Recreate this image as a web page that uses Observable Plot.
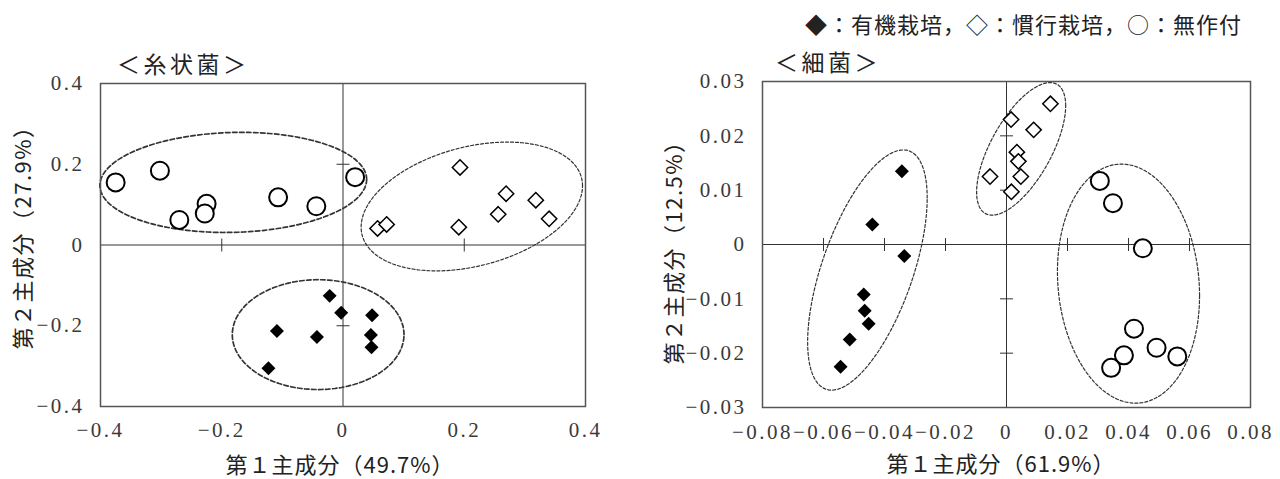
<!DOCTYPE html>
<html><head><meta charset="utf-8">
<script src="https://cdn.jsdelivr.net/npm/d3@7"></script>
<script src="https://cdn.jsdelivr.net/npm/@observablehq/plot@0.6"></script>
<style>
body{margin:0;background:#fff}
#wrap{position:relative;width:1280px;height:479px;overflow:hidden;background:#fff}
.pane{position:absolute;top:0}
.t{position:absolute;font-family:"Noto Sans CJK JP","Noto Sans",sans-serif;color:#222;line-height:1;white-space:nowrap}
</style></head>
<body>
<div id="wrap">
  <div id="left" class="pane" style="left:0"></div>
  <div id="right" class="pane" style="left:640px"></div>
  <div id="legend" class="t" style="left:805px;top:23px;font-size:22px;letter-spacing:1px;transform:translateY(-50%)"></div>
  <div id="titleL" class="t" style="left:117px;top:63px;font-size:23px;letter-spacing:3.5px;transform:translateY(-50%)"></div>
  <div id="titleR" class="t" style="left:775px;top:61px;font-size:23px;letter-spacing:3.5px;transform:translateY(-50%)"></div>
  <div id="xtL" class="t" style="left:340px;top:463px;font-size:22px;letter-spacing:1px;transform:translate(-50%,-50%)"></div>
  <div id="xtR" class="t" style="left:1001px;top:462px;font-size:22px;letter-spacing:1px;transform:translate(-50%,-50%)"></div>
  <div id="ytL" class="t" style="left:21px;top:232px;font-size:22px;letter-spacing:1.5px;transform:translate(-50%,-50%) rotate(-90deg)"></div>
  <div id="ytR" class="t" style="left:672px;top:247px;font-size:22px;letter-spacing:1.5px;transform:translate(-50%,-50%) rotate(-90deg)"></div>
</div>
<script>
// ---- texts ----
const legendText = "◆：有機栽培，◇：慣行栽培，○：無作付";
const panelTitles = ["＜糸状菌＞", "＜細菌＞"];
const xTitles = ["第１主成分（49.7%）", "第１主成分（61.9%）"];
const yTitles = ["第２主成分（27.9%）", "第２主成分（12.5%）"];

// ---- 糸状菌 (fungi) ----
const fungiXTicks = [-0.4, -0.2, 0, 0.2, 0.4];
const fungiYTicks = [-0.4, -0.2, 0, 0.2, 0.4];
const fungiXCross = [-0.2, 0.2];
const fungiYCross = [-0.2, 0.2];
const fungiOrganicX = [-0.022, -0.003, 0.048, -0.109, -0.043, 0.046, 0.047, -0.123];
const fungiOrganicY = [-0.126, -0.168, -0.174, -0.213, -0.228, -0.223, -0.253, -0.305];
const fungiConvX = [0.057, 0.072, 0.193, 0.191, 0.256, 0.269, 0.318, 0.340];
const fungiConvY = [0.041, 0.051, 0.192, 0.044, 0.076, 0.127, 0.111, 0.065];
const fungiFallowX = [-0.375, -0.302, -0.270, -0.225, -0.228, -0.107, -0.044, 0.020];
const fungiFallowY = [0.155, 0.184, 0.062, 0.102, 0.078, 0.118, 0.096, 0.168];
// ellipses: organic, conventional, fallow
const fungiEllCx = [-0.041, 0.2125, -0.181];
const fungiEllCy = [-0.222, 0.0954, 0.155];
const fungiEllRx = [0.1416, 0.1826, 0.220];
const fungiEllRy = [0.136, 0.1595, 0.124];
const fungiEllTilt = [0.0, 0.32, 0.06];
const fungiEllWidth = [1.7, 1.2, 1.7];
const fungiEllDash = ["4.5,2.5", "3,2", "4.5,2.5"];

// ---- 細菌 (bacteria) ----
const bactXTicks = [-0.08, -0.06, -0.04, -0.02, 0, 0.02, 0.04, 0.06, 0.08];
const bactYTicks = [-0.03, -0.02, -0.01, 0, 0.01, 0.02, 0.03];
const bactXCross = [-0.06, -0.04, -0.02, 0.02, 0.04, 0.06];
const bactYCross = [-0.02, -0.01, 0.01, 0.02];
const bactOrganicX = [-0.0343, -0.0440, -0.0335, -0.0468, -0.0465, -0.0452, -0.0514, -0.0544];
const bactOrganicY = [0.0135, 0.0037, -0.0021, -0.0092, -0.0122, -0.0146, -0.0175, -0.0225];
const bactConvX = [0.0144, 0.0015, 0.0089, 0.0034, 0.0039, -0.0054, 0.0047, 0.0016];
const bactConvY = [0.0259, 0.0230, 0.0211, 0.0170, 0.0153, 0.0125, 0.0125, 0.0097];
const bactFallowX = [0.0306, 0.0349, 0.0447, 0.0418, 0.0385, 0.0492, 0.0560, 0.0343];
const bactFallowY = [0.0117, 0.0076, -0.0007, -0.0155, -0.0204, -0.0190, -0.0206, -0.0227];
const bactEllCx = [-0.0456, 0.0048, 0.0400];
const bactEllCy = [-0.0047, 0.0176, -0.0072];
const bactEllRx = [0.0196, 0.0146, 0.0233];
const bactEllRy = [0.0221, 0.0122, 0.0220];
const bactEllTilt = [0.60, 0.65, -0.10];
const bactEllWidth = [1.2, 1.2, 1.2];
const bactEllDash = ["3,2", "3,2", "3,2"];

// ---- helpers ----
const zip = (xs, ys) => xs.map((x, i) => ({x, y: ys[i]}));
function ellipse(cx, cy, rx, ry, s) {
  const phi = Math.asin(s), pts = [];
  for (let i = 0; i <= 160; i++) {
    const t = i / 160 * 2 * Math.PI;
    pts.push({x: cx + rx * Math.cos(t), y: cy + ry * Math.sin(t + phi)});
  }
  return pts;
}
const vbar = {draw(ctx, size) { const r = Math.sqrt(size / Math.PI); ctx.moveTo(0, -r); ctx.lineTo(0, r); }};
const hbar = {draw(ctx, size) { const r = Math.sqrt(size / Math.PI); ctx.moveTo(-r, 0); ctx.lineTo(r, 0); }};
const fmt = d => d === 0 ? "0" : (d < 0 ? "−" : "") + String(Math.abs(d));

function panel(o) {
  const ells = o.ell.cx.map((cx, i) => Plot.line(
    ellipse(cx, o.ell.cy[i], o.ell.rx[i], o.ell.ry[i], o.ell.tilt[i]),
    {x: "x", y: "y", stroke: "#333", strokeWidth: o.ell.w[i], strokeDasharray: o.ell.dash[i], curve: "linear"}));
  return Plot.plot({
    width: 640, height: 479,
    marginLeft: o.ml, marginRight: o.mr, marginTop: o.mt, marginBottom: o.mb,
    x: {domain: o.xd, ticks: o.xt, tickFormat: fmt, tickSize: 0, tickPadding: o.xpad, label: null},
    y: {domain: o.yd, ticks: o.yt, tickFormat: fmt, tickSize: 0, tickPadding: 16, label: null},
    style: {fontFamily: "'Liberation Serif', 'DejaVu Serif', serif", fontSize: "21px", color: "#3a3a3a", letterSpacing: "2.5px", background: "transparent", overflow: "visible"},
    marks: [
      Plot.ruleX([0], {stroke: "#333", strokeWidth: 1}),
      Plot.ruleY([0], {stroke: "#333", strokeWidth: 1}),
      Plot.dot(o.xc, {x: d => d, y: () => 0, symbol: vbar, r: 6.5, stroke: "#333", strokeWidth: 1, fill: "none"}),
      Plot.dot(o.yc, {x: () => 0, y: d => d, symbol: hbar, r: 6.5, stroke: "#333", strokeWidth: 1, fill: "none"}),
      ...ells,
      Plot.dot(o.fallow, {x: "x", y: "y", symbol: "circle", r: 9, fill: "white", stroke: "black", strokeWidth: 2}),
      Plot.dot(o.conv, {x: "x", y: "y", symbol: "diamond2", r: 6.9, fill: "white", stroke: "black", strokeWidth: 1.5}),
      Plot.dot(o.organic, {x: "x", y: "y", symbol: "diamond2", r: 6.3, fill: "black"}),
      Plot.frame({stroke: "#555", strokeWidth: 1.5})
    ]
  });
}

document.getElementById("left").append(panel({
  ml: 100, mr: 55, mt: 83, mb: 73, xpad: 16, xd: [-0.4, 0.4], yd: [-0.4, 0.4],
  xt: fungiXTicks, yt: fungiYTicks, xc: fungiXCross, yc: fungiYCross,
  organic: zip(fungiOrganicX, fungiOrganicY), conv: zip(fungiConvX, fungiConvY), fallow: zip(fungiFallowX, fungiFallowY),
  ell: {cx: fungiEllCx, cy: fungiEllCy, rx: fungiEllRx, ry: fungiEllRy, tilt: fungiEllTilt, w: fungiEllWidth, dash: fungiEllDash}
}));
document.getElementById("right").append(panel({
  ml: 122, mr: 30, mt: 81, mb: 72, xpad: 17, xd: [-0.08, 0.08], yd: [-0.03, 0.03],
  xt: bactXTicks, yt: bactYTicks, xc: bactXCross, yc: bactYCross,
  organic: zip(bactOrganicX, bactOrganicY), conv: zip(bactConvX, bactConvY), fallow: zip(bactFallowX, bactFallowY),
  ell: {cx: bactEllCx, cy: bactEllCy, rx: bactEllRx, ry: bactEllRy, tilt: bactEllTilt, w: bactEllWidth, dash: bactEllDash}
}));

document.getElementById("legend").textContent = legendText;
document.getElementById("titleL").textContent = panelTitles[0];
document.getElementById("titleR").textContent = panelTitles[1];
document.getElementById("xtL").textContent = xTitles[0];
document.getElementById("xtR").textContent = xTitles[1];
document.getElementById("ytL").textContent = yTitles[0];
document.getElementById("ytR").textContent = yTitles[1];
</script>
</body></html>
